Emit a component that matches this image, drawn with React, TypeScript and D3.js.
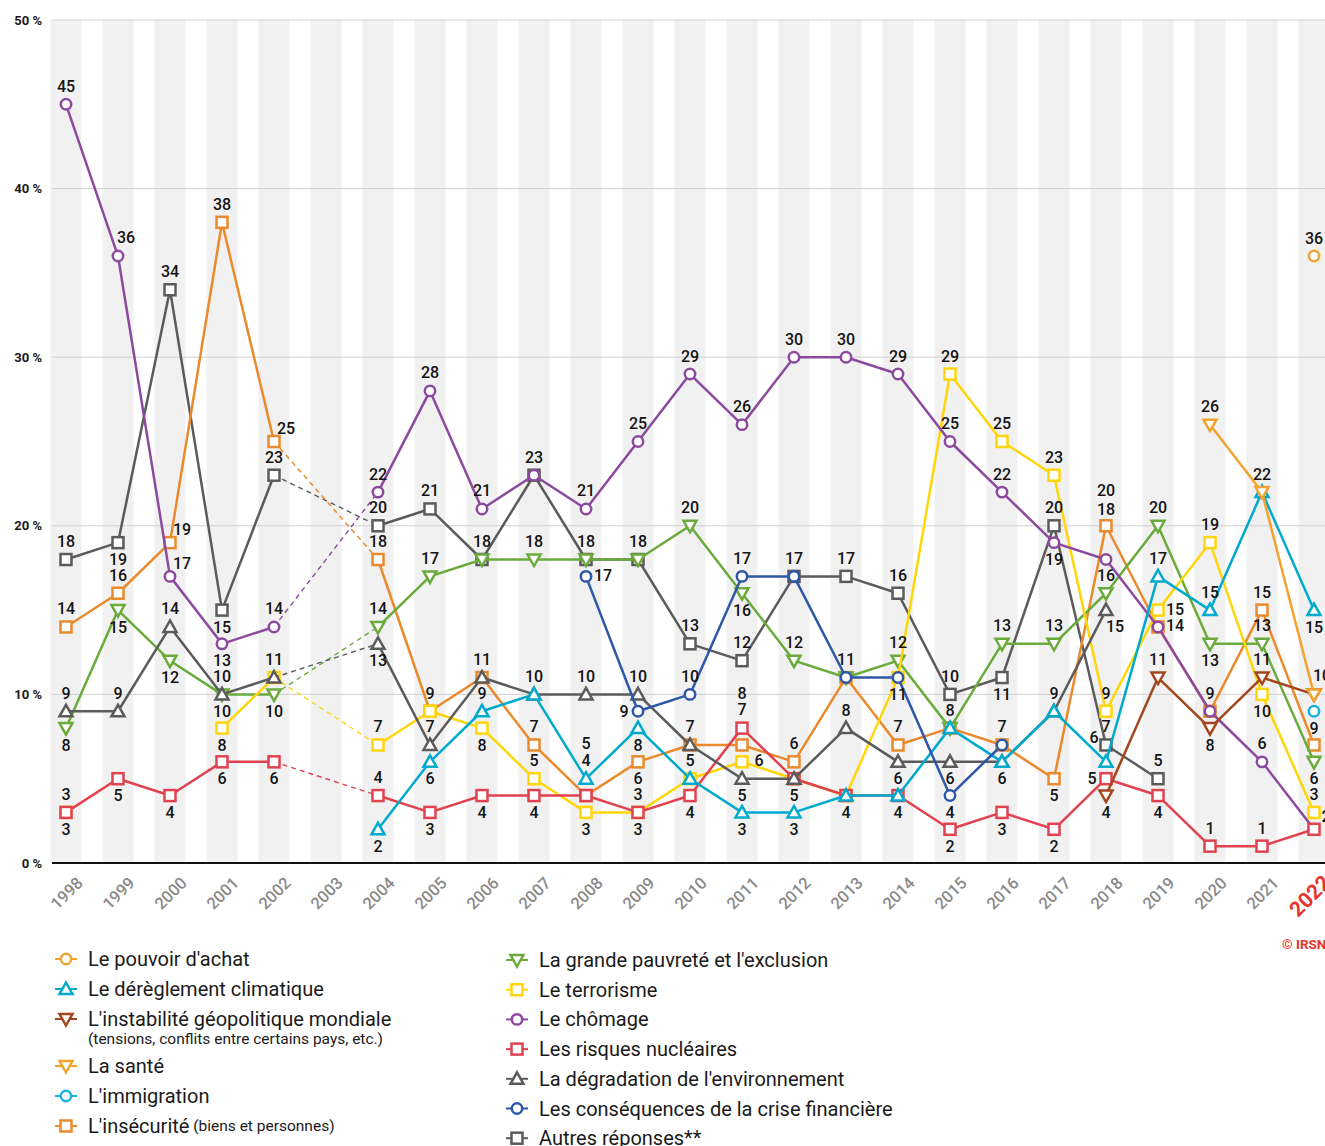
import React from 'react';
import * as d3 from 'd3';

// ---------- DATA ----------
const years = [1998, 1999, 2000, 2001, 2002, 2003, 2004, 2005, 2006, 2007, 2008, 2009, 2010, 2011, 2012, 2013, 2014, 2015, 2016, 2017, 2018, 2019, 2020, 2021, 2022];
const noSurveyYears = [2003];
const yTicks = [0, 10, 20, 30, 40, 50];
const highlightYear = 2022;

type V = number | null;
const _ = null;

const chomage: V[] = [45, 36, 17, 13, 14, _, 22, 28, 21, 23, 21, 25, 29, 26, 30, 30, 29, 25, 22, 19, 18, 14, 9, 6, 2];
const autres: V[] = [18, 19, 34, 15, 23, _, 20, 21, 18, 23, 18, 18, 13, 12, 17, 17, 16, 10, 11, 20, 7, 5, _, _, _];
const insecurite: V[] = [14, 16, 19, 38, 25, _, 18, 9, 11, 7, 4, 6, 7, 7, 6, 11, 7, 8, 7, 5, 20, 14, 9, 15, 7];
const pauvrete: V[] = [8, 15, 12, 10, 10, _, 14, 17, 18, 18, 18, 18, 20, 16, 12, 11, 12, 8, 13, 13, 16, 20, 13, 13, 6];
const environnement: V[] = [9, 9, 14, 10, 11, _, 13, 7, 11, 10, 10, 10, 7, 5, 5, 8, 6, 6, 6, 9, 15, _, _, _, _];
const terrorisme: V[] = [3, _, _, 8, 11, _, 7, 9, 8, 5, 3, 3, 5, 6, 5, 4, 11, 29, 25, 23, 9, 15, 19, 10, 3];
const nucleaire: V[] = [3, 5, 4, 6, 6, _, 4, 3, 4, 4, 4, 3, 4, 8, 5, 4, 4, 2, 3, 2, 5, 4, 1, 1, 2];
const climat: V[] = [_, _, _, _, _, _, 2, 6, 9, 10, 5, 8, 5, 3, 3, 4, 4, 8, 6, 9, 6, 17, 15, 22, 15];
const crise: V[] = [_, _, _, _, _, _, _, _, _, _, 17, 9, 10, 17, 17, 11, 11, 4, 7, _, _, _, _, _, _];
const geopolitique: V[] = [_, _, _, _, _, _, _, _, _, _, _, _, _, _, _, _, _, _, _, _, 4, 11, 8, 11, 10];
const sante: V[] = [_, _, _, _, _, _, _, _, _, _, _, _, _, _, _, _, _, _, _, _, _, _, 26, 22, 10];
const immigration: V[] = [_, _, _, _, _, _, _, _, _, _, _, _, _, _, _, _, _, _, _, _, _, _, _, _, 9];
const pouvoir: V[] = [_, _, _, _, _, _, _, _, _, _, _, _, _, _, _, _, _, _, _, _, _, _, _, _, 36];

// label placement codes, one per year (a above, b below, r right, l left, ...; '-' none)
const chomageLbl = 'aeRba-aaa-aaaaaaaaabCr-aR';
const autresLbl = 'ababa-aaaaaaaaaaaabaaa---';
const insecuriteLbl = 'aaRaR-a-aaAbaAa-a-abA-aar';
const pauvreteLbl = 'bbbbb-aa-a--aba-aaaaaabab';
const environnementLbl = 'aaaa--ba--aa-bbabbbaq----';
const terrorismeLbl = 'a--ba-aababa-r---aaaaraba';
const nucleaireLbl = 'bbbbb-abbb-bbA-bbbbblbaa-';
const climatLbl = '------bbaaAbabb-----Laa-b';
const criseLbl = '----------rlaa-abb-------';
const geopolitiqueLbl = '--------------------baba-';
const santeLbl = '----------------------aae';
const immigrationLbl = '------------------------b';
const pouvoirLbl = '------------------------a';

// ---------- STYLE ----------
type Shape = 'circle' | 'square' | 'triUp' | 'triDown';
interface Series { key: string; name: string; sub?: string; small?: string; values: V[]; labels: string; color: string; shape: Shape; }

const S: Record<string, Series> = {
  autres: { key: 'autres', name: 'Autres réponses**', values: autres, labels: autresLbl, color: '#5b5b5b', shape: 'square' },
  insecurite: { key: 'insecurite', name: "L'insécurité", small: ' (biens et personnes)', values: insecurite, labels: insecuriteLbl, color: '#ea8a2c', shape: 'square' },
  pauvrete: { key: 'pauvrete', name: "La grande pauvreté et l'exclusion", values: pauvrete, labels: pauvreteLbl, color: '#6aab3c', shape: 'triDown' },
  terrorisme: { key: 'terrorisme', name: 'Le terrorisme', values: terrorisme, labels: terrorismeLbl, color: '#ffd60a', shape: 'square' },
  chomage: { key: 'chomage', name: 'Le chômage', values: chomage, labels: chomageLbl, color: '#8c4a9f', shape: 'circle' },
  nucleaire: { key: 'nucleaire', name: 'Les risques nucléaires', values: nucleaire, labels: nucleaireLbl, color: '#e0424f', shape: 'square' },
  environnement: { key: 'environnement', name: "La dégradation de l'environnement", values: environnement, labels: environnementLbl, color: '#5b5b5b', shape: 'triUp' },
  climat: { key: 'climat', name: 'Le dérèglement climatique', values: climat, labels: climatLbl, color: '#00aacd', shape: 'triUp' },
  crise: { key: 'crise', name: 'Les conséquences de la crise financière', values: crise, labels: criseLbl, color: '#2f57a7', shape: 'circle' },
  geopolitique: { key: 'geopolitique', name: "L'instabilité géopolitique mondiale", sub: '(tensions, conflits entre certains pays, etc.)', values: geopolitique, labels: geopolitiqueLbl, color: '#a4461d', shape: 'triDown' },
  sante: { key: 'sante', name: 'La santé', values: sante, labels: santeLbl, color: '#f2a42e', shape: 'triDown' },
  immigration: { key: 'immigration', name: "L'immigration", values: immigration, labels: immigrationLbl, color: '#16b3df', shape: 'circle' },
  pouvoir: { key: 'pouvoir', name: "Le pouvoir d'achat", values: pouvoir, labels: pouvoirLbl, color: '#f2a42e', shape: 'circle' },
};

const drawOrder = ['autres', 'insecurite', 'pauvrete', 'terrorisme', 'chomage', 'nucleaire', 'environnement', 'climat', 'crise', 'geopolitique', 'sante', 'immigration', 'pouvoir'];
const legendLeft = ['pouvoir', 'climat', 'geopolitique', 'sante', 'immigration', 'insecurite'];
const legendRight = ['pauvrete', 'terrorisme', 'chomage', 'nucleaire', 'environnement', 'crise', 'autres'];

const OFFS: Record<string, [number, number]> = {
  a: [0, -18], b: [0, 17], A: [0, -35], C: [0, -50], e: [8, -19],
  r: [17, -1], R: [12, -13], l: [-14, 0], L: [-12, -24], q: [9, 16],
};

const W = 1325, H = 1146;
const FONT = 'Roboto, "Noto Sans", sans-serif';

function Marker({ shape, cx, cy, color }: { shape: Shape; cx: number; cy: number; color: string }) {
  const common = { fill: '#fff', stroke: color, strokeWidth: 2.5 };
  if (shape === 'circle') return <circle cx={cx} cy={cy} r={5.2} {...common} />;
  if (shape === 'square') return <rect x={cx - 5.5} y={cy - 5.5} width={11} height={11} {...common} />;
  if (shape === 'triUp') return <path d={`M${cx},${cy - 6.5}L${cx + 6.5},${cy + 5}L${cx - 6.5},${cy + 5}Z`} {...common} strokeLinejoin="miter" />;
  return <path d={`M${cx},${cy + 6.5}L${cx + 6.5},${cy - 5}L${cx - 6.5},${cy - 5}Z`} {...common} strokeLinejoin="miter" />;
}

export default function App() {
  const x = d3.scaleLinear().domain([years[0], years[years.length - 1]]).range([66, 1314]);
  const y = d3.scaleLinear().domain([0, 50]).range([863, 20]);
  const plotLeft = 52, plotRight = W;
  const bandW = 31;

  const line = (vals: V[]) =>
    d3.line<V>().defined((v) => v != null).x((_v, i) => x(years[i])).y((v) => y(v as number))(vals) || '';

  const series = drawOrder.map((k) => S[k]);

  return (
    <div style={{ position: 'absolute', left: 0, top: 0 }}>
      <svg width={W} height={H} viewBox={`0 0 ${W} ${H}`} style={{ display: 'block', fontFamily: FONT }}>
        <rect x={0} y={0} width={W} height={H} fill="#fff" />
        {/* year bands */}
        {years.map((yr) => (
          <rect key={'band' + yr} x={x(yr) - bandW / 2} y={y(50)} width={bandW} height={y(0) - y(50)} fill="#f1f1f1" />
        ))}
        {/* grid */}
        {yTicks.filter((t) => t > 0).map((t) => (
          <line key={'g' + t} x1={plotLeft} x2={plotRight} y1={y(t)} y2={y(t)} stroke="#cfcfcf" strokeWidth={1} />
        ))}
        <line x1={plotLeft} x2={plotRight} y1={y(0)} y2={y(0)} stroke="#111" strokeWidth={2} />
        {yTicks.map((t) => (
          <text key={'yt' + t} x={42} y={y(t)} textAnchor="end" dominantBaseline="central" fontSize={13} fontWeight={700} fill="#1a1a1a">
            {t} %
          </text>
        ))}
        {/* x labels */}
        {years.map((yr) => {
          const hl = yr === highlightYear;
          return (
            <text key={'xl' + yr} transform={`translate(${x(yr) + 18},${884}) rotate(-45)`} textAnchor="end"
              fontSize={hl ? 21 : 16.5} fontWeight={hl ? 700 : 500} fill={hl ? '#e5352c' : '#8a8a8a'}>
              {yr}
            </text>
          );
        })}

        {/* series */}
        {series.map((s) => {
          const bridges: JSX.Element[] = [];
          noSurveyYears.forEach((ny) => {
            const i = years.indexOf(ny);
            const a = s.values[i - 1], b = s.values[i + 1];
            if (s.values[i] == null && a != null && b != null) {
              bridges.push(
                <line key={'br' + ny} x1={x(years[i - 1])} y1={y(a)} x2={x(years[i + 1])} y2={y(b)}
                  stroke={s.color} strokeWidth={1.4} strokeDasharray="5 4" />
              );
            }
          });
          return (
            <g key={s.key}>
              {bridges}
              <path d={line(s.values)} fill="none" stroke={s.color} strokeWidth={2.5} strokeLinejoin="round" />
              {s.values.map((v, i) => v == null ? null : (
                <Marker key={i} shape={s.shape} cx={x(years[i])} cy={y(v)} color={s.color} />
              ))}
            </g>
          );
        })}

        {/* value labels */}
        {series.map((s) => (
          <g key={'lbl' + s.key}>
            {s.values.map((v, i) => {
              const code = s.labels[i];
              if (v == null || !code || code === '-') return null;
              const [dx, dy] = OFFS[code];
              return (
                <text key={i} x={x(years[i]) + dx} y={y(v) + dy} textAnchor="middle" dominantBaseline="central"
                  fontSize={16} fontWeight={500} fill="#141414">
                  {v}
                </text>
              );
            })}
          </g>
        ))}

        <text x={1282} y={944} dominantBaseline="central" fontSize={13.5} fontWeight={700} fill="#e5352c">© IRSN</text>

        {/* legend */}
        {legendLeft.map((k, i) => {
          const s = S[k];
          const extra = legendLeft.slice(0, i).some((kk) => S[kk].sub) ? 17 : 0;
          const ly = 959 + i * 30 + extra;
          return (
            <g key={'ll' + k}>
              <line x1={55} x2={77} y1={ly} y2={ly} stroke={s.color} strokeWidth={2} />
              <Marker shape={s.shape} cx={66} cy={ly} color={s.color} />
              <text x={88} y={ly} dominantBaseline="central" fontSize={20} fill="#1a1a1a">
                {s.name}
                {s.small ? <tspan fontSize={15.5}>{s.small}</tspan> : null}
              </text>
              {s.sub ? (
                <text x={88} y={ly + 20} dominantBaseline="central" fontSize={15.5} fill="#1a1a1a">{s.sub}</text>
              ) : null}
            </g>
          );
        })}
        {legendRight.map((k, i) => {
          const s = S[k];
          const ly = 960 + i * 29.7;
          return (
            <g key={'lr' + k}>
              <line x1={506} x2={528} y1={ly} y2={ly} stroke={s.color} strokeWidth={2} />
              <Marker shape={s.shape} cx={517} cy={ly} color={s.color} />
              <text x={539} y={ly} dominantBaseline="central" fontSize={20} fill="#1a1a1a">{s.name}</text>
            </g>
          );
        })}
      </svg>
    </div>
  );
}
